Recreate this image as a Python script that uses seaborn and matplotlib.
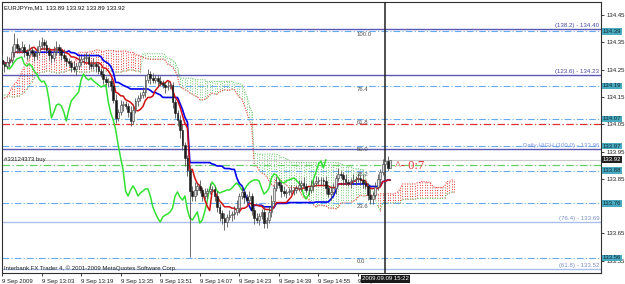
import numpy as np
import pandas as pd
import matplotlib
matplotlib.use("Agg")
import matplotlib.pyplot as plt
import matplotlib.transforms as mtransforms
import seaborn as sns

# ---------------- data ----------------
symbol_title = "EURJPYm,M1  133.89 133.92 133.89 133.92"
first_open = 134.285
closes = [
    134.271, 134.263, 134.278, 134.285, 134.315, 134.344, 134.329, 134.322, 134.333, 134.315,
    134.304, 134.322, 134.311, 134.300, 134.315, 134.337, 134.351, 134.340, 134.322, 134.304,
    134.293, 134.315, 134.333, 134.322, 134.304, 134.293, 134.282, 134.274, 134.260, 134.252,
    134.263, 134.278, 134.289, 134.293, 134.296, 134.271, 134.263, 134.271, 134.263, 134.245,
    134.234, 134.216, 134.205, 134.208, 134.190, 134.139, 134.073, 134.095, 134.120, 134.124,
    134.117, 134.095, 134.062, 134.102, 134.135, 134.146, 134.157, 134.168, 134.212, 134.234,
    134.219, 134.212, 134.219, 134.208, 134.201, 134.194, 134.186, 134.190, 134.194, 134.131,
    134.091, 134.065, 134.029, 133.974, 133.926, 133.882, 133.805, 133.787, 133.809, 133.824,
    133.809, 133.787, 133.798, 133.805, 133.813, 133.813, 133.787, 133.747, 133.725, 133.706,
    133.692, 133.710, 133.717, 133.721, 133.729, 133.743, 133.787, 133.802, 133.783, 133.772,
    133.787, 133.736, 133.706, 133.699, 133.714, 133.729, 133.688, 133.699, 133.729, 133.769,
    133.816, 133.838, 133.827, 133.805, 133.798, 133.802, 133.805, 133.809, 133.809, 133.816,
    133.827, 133.835, 133.824, 133.809, 133.809, 133.824, 133.835, 133.842, 133.846, 133.846,
    133.842, 133.816, 133.794, 133.802, 133.816, 133.853, 133.868, 133.864, 133.849, 133.838,
    133.835, 133.842, 133.846, 133.849, 133.853, 133.846, 133.835, 133.824, 133.791, 133.776,
    133.791, 133.820, 133.849, 133.875, 133.904, 133.915, 133.890, 133.920]
# wick lengths in pips (0.01 JPY) above / below candle bodies
wick_up = [2, 1, 2, 1, 2, 4, 2, 1, 2, 1, 1, 2, 1, 1, 2, 2, 2, 1, 2, 1,
           1, 2, 2, 1, 1, 2, 1, 1, 1, 2, 1, 2, 1, 1, 2, 1, 1, 2, 1, 1,
           1, 2, 1, 1, 1, 1, 2, 1, 2, 1, 1, 1, 2, 2, 1, 1, 1, 2, 2, 2,
           1, 2, 1, 1, 2, 1, 1, 2, 1, 1, 1, 1, 2, 2, 1, 1, 2, 2, 3, 1,
           2, 1, 2, 1, 2, 1, 1, 2, 1, 1, 2, 1, 2, 1, 2, 3, 1, 2, 1, 1,
           2, 1, 1, 2, 1, 1, 2, 1, 2, 2, 1, 2, 1, 1, 2, 1, 1, 2, 1, 1,
           2, 1, 2, 1, 1, 2, 1, 2, 1, 1, 1, 2, 1, 2, 2, 1, 2, 1, 1, 2,
           1, 1, 2, 1, 2, 1, 2, 1, 1, 2, 1, 2, 2, 1, 2, 1, 2, 0]
wick_dn = [1, 2, 1, 2, 1, 2, 2, 1, 1, 2, 2, 1, 1, 2, 1, 1, 1, 2, 1, 2,
           2, 1, 1, 2, 2, 1, 2, 1, 2, 1, 2, 1, 1, 2, 1, 2, 1, 1, 2, 1,
           1, 2, 1, 2, 2, 1, 2, 1, 1, 2, 1, 2, 2, 1, 1, 2, 1, 1, 2, 1,
           2, 1, 1, 2, 1, 1, 2, 1, 1, 2, 2, 2, 3, 2, 3, 2, 24, 2, 2, 2,
           1, 2, 1, 2, 1, 1, 2, 2, 3, 2, 3, 2, 1, 2, 2, 1, 2, 1, 2, 2,
           1, 2, 2, 1, 2, 1, 2, 2, 1, 2, 2, 1, 1, 2, 1, 2, 1, 1, 2, 1,
           1, 2, 1, 1, 2, 1, 2, 1, 1, 2, 2, 2, 1, 2, 1, 2, 1, 1, 2, 1,
           1, 2, 1, 2, 1, 2, 2, 1, 2, 2, 2, 1, 1, 2, 1, 2, 1, 0]
# leading cloud spans whose source bars lie before the visible window
span_a_early = [134.146, 134.146, 134.150, 134.168, 134.183, 134.197, 134.205, 134.219,
                134.241, 134.260, 134.274, 134.289, 134.304, 134.315, 134.322, 134.322,
                134.325, 134.329, 134.329, 134.325, 134.322, 134.325, 134.329, 134.329,
                134.325, 134.322]
span_b_early = [134.157, 134.157, 134.157, 134.153, 134.150, 134.150, 134.153, 134.153,
                134.161, 134.168, 134.179, 134.190, 134.205, 134.219, 134.230, 134.238,
                134.241, 134.241, 134.245, 134.245, 134.241, 134.241, 134.238, 134.238,
                134.241, 134.241, 134.245, 134.249, 134.249, 134.249, 134.245, 134.241,
                134.241, 134.241, 134.241, 134.241, 134.245, 134.245, 134.249, 134.249,
                134.249, 134.249, 134.245, 134.245, 134.245, 134.241, 134.241, 134.241,
                134.241, 134.245, 134.245, 134.249, 134.249, 134.249, 134.245, 134.245,
                134.241]

time_ticks = [0, 16, 32, 48, 64, 80, 96, 112, 128, 144]
time_labels = ["9 Sep 2009", "9 Sep 13:03", "9 Sep 13:19", "9 Sep 13:35", "9 Sep 13:51",
               "9 Sep 14:07", "9 Sep 14:23", "9 Sep 14:39", "9 Sep 14:55", "9 Sep 15:11"]
price_ticks = [134.45, 134.35, 134.25, 134.15, 134.05, 133.95, 133.85, 133.75, 133.65, 133.55]
hidden_price_ticks = [133.75]   # covered by a price box in the original

fibo_ext_levels = [134.40, 134.23, 133.96, 133.69, 133.52]
fibo_ext_labels = ["(138.2) - 134.40", "(123.6) - 134.23", "Daily HIGH (100.0) - 133.96",
                   "(76.4) - 133.69", "(61.8) - 133.52"]
fibo_ret_levels = [134.39, 134.19, 134.07, 133.97, 133.88, 133.76, 133.56]
fibo_ret_texts = ["100.0", "76.4", "61.8", "50.0", "38.2", "23.6", "0.0"]
tp_level = 134.05
order_level = 133.90
order_label = "#33124373 buy"
bid_level = 133.92
separator_bar = 155
separator_label = "2009.09.09 15:22"
note_text = "^- 0:7"
note_bar, note_price = 159, 133.897
copyright_text = "Interbank FX Trader 4, \u00a9 2001-2009 MetaQuotes Software Corp."

# ---------------- derived series ----------------
c = np.array(closes)
o = np.r_[first_open, c[:-1]]
hi = np.maximum(o, c) + np.array(wick_up) * 0.01
lo = np.minimum(o, c) - np.array(wick_dn) * 0.01
n = len(c)
bars = np.arange(n)
H, L = pd.Series(hi), pd.Series(lo)
tenkan = ((H.rolling(9, min_periods=1).max() + L.rolling(9, min_periods=1).min()) / 2).values
kijun = ((H.rolling(26, min_periods=1).max() + L.rolling(26, min_periods=1).min()) / 2).values
sb_src = ((H.rolling(52, min_periods=1).max() + L.rolling(52, min_periods=1).min()) / 2).values
span_a = np.r_[span_a_early, (tenkan + kijun) / 2]
span_b = np.r_[np.full(26, np.nan), sb_src]
span_b[:len(span_b_early)] = span_b_early
cloud_x = np.arange(n + 26)

# ---------------- drawing ----------------
sns.set_style("white")
plt.rcParams["font.family"] = ["Liberation Sans", "DejaVu Sans"]
FS = 4.3
W, Hh = 625, 284
fig = plt.figure(figsize=(W / 100, Hh / 100), dpi=100)
ax = fig.add_axes([2 / W, 11 / Hh, 599 / W, 271 / Hh])
ax.set_xlim(0, 242.3)
ax.set_ylim(133.505, 134.4976)

# cloud hatch (vertical dotted strokes per bar)
for xi, a, b in zip(cloud_x, span_a, span_b):
    col = "#E8403A" if a >= b else "#7ACC7A"
    ax.vlines(xi, min(a, b), max(a, b), colors=col, linestyles=(0, (1, 1.6)), lw=0.7, zorder=1)
ax.plot(cloud_x, span_a, color="#E8403A", ls=(0, (1, 1.2)), lw=0.8, zorder=1)
ax.plot(cloud_x, span_b, color="#7ACC7A", ls=(0, (1, 1.2)), lw=0.8, zorder=1)

# horizontal objects
for lv in fibo_ret_levels:
    ax.axhline(lv, color="#66AAF0", lw=0.8, ls=(0, (6, 2, 1, 2)), zorder=2)
ext_colors = ["#5A5AB4", "#5A5AB4", "#5A5AB4", "#A9BFEA", "#A9BFEA"]
ext_text_colors = ["#4646A0", "#4646A0", "#7C98E0", "#7C90C8", "#7C90C8"]
for lv, col in zip(fibo_ext_levels, ext_colors):
    ax.axhline(lv, color=col, lw=1.0, zorder=2)
ax.axhline(tp_level, color="#E03030", lw=0.9, ls=(0, (6, 2, 1, 2)), zorder=2)
ax.axhline(bid_level, color="#C8C8C8", lw=0.8, zorder=2)
ax.axhline(order_level, color="#66D066", lw=0.9, ls=(0, (6, 2, 1, 2)), zorder=2)

# period separator
ax.axvline(separator_bar, color="#202020", lw=1.1, zorder=3)

# chikou, tenkan, kijun
sns.lineplot(x=bars[:n - 26], y=c[26:], ax=ax, color="#33E033", lw=1.1, zorder=4)
sns.lineplot(x=bars, y=kijun, ax=ax, color="#0000F0", lw=1.2, zorder=5)
sns.lineplot(x=bars, y=tenkan, ax=ax, color="#D01010", lw=1.1, zorder=5)

# candles
up = c >= o
ax.vlines(bars, lo, hi, colors="#555555", lw=0.6, zorder=6)
ax.bar(bars[up], (c - o)[up] + 0.0005, bottom=o[up], width=0.7, color="#E0E0E0",
       edgecolor="#3A3A3A", lw=0.4, zorder=7)
ax.bar(bars[~up], (o - c)[~up] + 0.0005, bottom=c[~up], width=0.7, color="#1A1A1A",
       edgecolor="#1A1A1A", lw=0.4, zorder=7)

# texts inside chart
tr_r = mtransforms.blended_transform_factory(ax.transAxes, ax.transData)
for lv, txt, tc in zip(fibo_ext_levels, fibo_ext_labels, ext_text_colors):
    ax.text(0.997, lv + 0.004, txt, transform=tr_r, ha="right", va="bottom",
            fontsize=FS + 0.1, color=tc, zorder=8)
for lv, txt in zip(fibo_ret_levels, fibo_ret_texts):
    ax.text(143.5, lv - 0.004, txt, ha="left", va="top", fontsize=FS, color="#505050", zorder=8)
ax.text(note_bar, note_price, note_text, ha="left", va="center", fontsize=9,
        color="#E03030", family=["Liberation Serif", "DejaVu Serif"], zorder=8)

# axes styling
for s in ax.spines.values():
    s.set_color("#303030")
    s.set_linewidth(0.8)
ax.yaxis.tick_right()
ax.set_yticks(price_ticks)
ax.set_yticklabels(["" if v in hidden_price_ticks else f"{v:.2f}" for v in price_ticks])
ax.set_xticks(time_ticks)
ax.set_xticklabels(time_labels, ha="left")
ax.tick_params(axis="both", labelsize=FS, length=2.5, width=0.6, colors="#202020", pad=1.5,
               direction="out")
ax.tick_params(axis="y", right=True, left=False)
ax.tick_params(axis="x", bottom=True)
ax.set_xlabel("")
ax.set_ylabel("")

# price boxes on right axis
for lv in fibo_ret_levels:
    ax.text(1.003, lv, f"{lv:.2f}", transform=tr_r, ha="left", va="center", fontsize=FS,
            color="#0C2A36", clip_on=False, zorder=20,
            bbox=dict(boxstyle="square,pad=0.12", fc="#4AAABF", ec="none"))
ax.text(1.003, bid_level, f"{bid_level:.2f}", transform=tr_r, ha="left", va="center",
        fontsize=FS, color="#FFFFFF", clip_on=False, zorder=20,
        bbox=dict(boxstyle="square,pad=0.12", fc="#202020", ec="none"))

# figure texts
fig.text(4 / W, 1 - 8 / Hh, symbol_title, ha="left", va="center", fontsize=FS, color="#101010")
fig.text(4 / W, 1 - 159 / Hh, order_label, ha="left", va="center", fontsize=FS, color="#202020")
fig.text(4 / W, 1 - 268 / Hh, copyright_text, ha="left", va="center", fontsize=FS, color="#202020")
fig.text(385.5 / W, 1 - 279 / Hh, separator_label, ha="center", va="center", fontsize=FS,
         color="#FFFFFF", bbox=dict(boxstyle="square,pad=0.2", fc="#1A1A1A", ec="none"))

fig.savefig("out.png", dpi=100, facecolor="white")
